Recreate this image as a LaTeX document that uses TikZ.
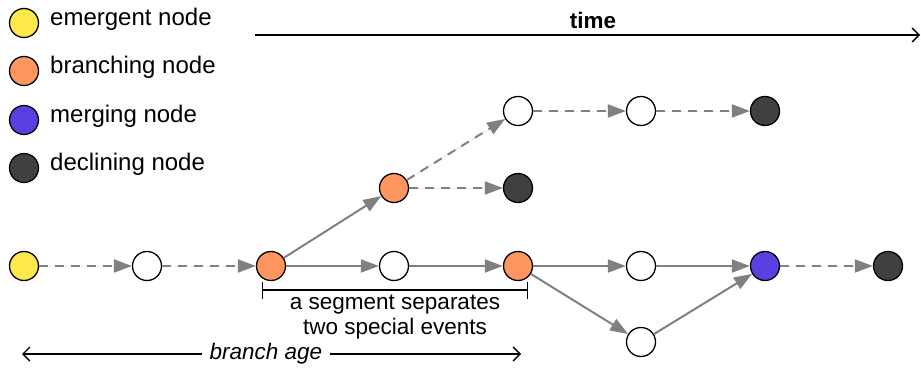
\documentclass[tikz,border=0pt]{standalone}
\usepackage{fontspec}
\setmainfont{Liberation Sans}
\usetikzlibrary{arrows.meta}
\definecolor{cyel}{HTML}{FFE84A}
\definecolor{corg}{HTML}{FF965F}
\definecolor{cpur}{HTML}{5B3FE0}
\definecolor{cdrk}{HTML}{404040}
\definecolor{cgry}{HTML}{808080}
\tikzset{
  gnode/.style={circle,draw=black,line width=1.3pt,minimum size=29pt,inner sep=0pt},
  plain/.style={gnode,fill=white},
  emer/.style={gnode,fill=cyel},
  bran/.style={gnode,fill=corg},
  merg/.style={gnode,fill=cpur},
  decl/.style={gnode,fill=cdrk},
  conn/.style={draw=cgry,line width=2pt,-{Triangle[length=18pt,width=13pt]},fill=cgry},
  dconn/.style={conn,dash pattern=on 9pt off 7pt},
  lbl/.style={font=\fontsize{22.5}{26}\selectfont,inner sep=0pt},
  leg/.style={font=\fontsize{24}{28}\selectfont,inner sep=0pt,anchor=mid west},
  axis/.style={line width=1.4pt,draw=black},
}
\begin{document}
\begin{tikzpicture}[x=1pt,y=-1pt]
\useasboundingbox (0,0) rectangle (921,369);
% legend
\node[emer] (l1) at (24,23) {};
\node[bran] (l2) at (24,71) {};
\node[merg] (l3) at (24,120) {};
\node[decl] (l4) at (24,168) {};
\node[leg] (t1) at (50,23) {emergent node};
\node[leg] (t2) at (50,71) {branching node};
\node[leg] (t3) at (50,120) {merging node};
\node[leg] (t4) at (50,168) {declining node};
% time axis
\coordinate (ta) at (255,35);
\coordinate (tb) at (920,35);
\draw[axis,-{Straight Barb[length=7pt,width=14pt]}] (ta) -- (tb);
\node[lbl,font=\fontsize{22.5}{26}\selectfont\bfseries] (time) at (593,20) {time};
% main row
\node[emer] (a1) at (24,266) {};
\node[plain] (a2) at (147,266) {};
\node[bran] (a3) at (271,266) {};
\node[plain] (a4) at (394,266) {};
\node[bran] (a5) at (518,266) {};
\node[plain] (a6) at (641,266) {};
\node[merg] (a7) at (765,266) {};
\node[decl] (a8) at (888,266) {};
% upper branches
\node[bran] (b1) at (394,188) {};
\node[decl] (b2) at (518,188) {};
\node[plain] (c1) at (518,111) {};
\node[plain] (c2) at (641,111) {};
\node[decl] (c3) at (765,111) {};
% lower
\node[plain] (d1) at (641,342) {};
% connectors
\draw[dconn] (a1) -- (a2);
\draw[dconn] (a2) -- (a3);
\draw[conn] (a3) -- (a4);
\draw[conn] (a4) -- (a5);
\draw[conn] (a5) -- (a6);
\draw[conn] (a6) -- (a7);
\draw[dconn] (a7) -- (a8);
\draw[conn] (a3) -- (b1);
\draw[dconn] (b1) -- (b2);
\draw[dconn] (b1) -- (c1);
\draw[dconn] (c1) -- (c2);
\draw[dconn] (c2) -- (c3);
\draw[conn] (a5) -- (d1);
\draw[conn] (d1) -- (a7);
% segment bracket
\coordinate (s1) at (262,290);
\coordinate (s2) at (528,290);
\draw[axis,{Bar[width=17pt]}-{Bar[width=17pt]}] (s1) -- (s2);
\node[lbl,align=center,font=\fontsize{22.5}{25}\selectfont] (seg) at (395,317) {a segment separates\\two special events};
% branch age
\node[lbl,font=\fontsize{22.5}{26}\selectfont\itshape] (age) at (266,354) {branch age};
\coordinate (g1) at (22,354);
\coordinate (g2) at (521,354);
\draw[axis,-{Straight Barb[length=7pt,width=14pt]}] ([xshift=-8pt]age.west) -- (g1);
\draw[axis,-{Straight Barb[length=7pt,width=14pt]}] ([xshift=8pt]age.east) -- (g2);
\end{tikzpicture}
\end{document}
